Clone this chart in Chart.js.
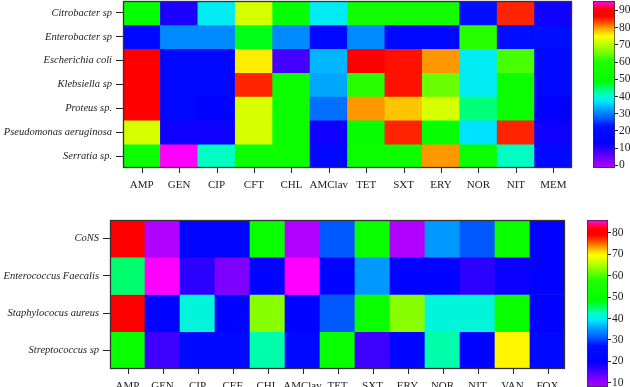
<!DOCTYPE html>
<html>
<head>
<meta charset="utf-8">
<script src="https://cdn.jsdelivr.net/npm/chart.js@4.4.0/dist/chart.umd.min.js"></script>
<style>
  html, body { margin: 0; padding: 0; background: #fff; }
  #wrap { position: relative; width: 630px; height: 387px; overflow: hidden; }
  #wrap canvas { position: absolute; }
</style>
</head>
<body>
<div id="wrap">
  <canvas id="heatTop" width="580" height="195" style="left:0;top:0"></canvas>
  <canvas id="barTop" width="45" height="175" style="left:585px;top:0"></canvas>
  <canvas id="heatBottom" width="580" height="187" style="left:0;top:200px"></canvas>
  <canvas id="barBottom" width="50" height="177" style="left:580px;top:210px"></canvas>
</div>
<script>
// ---- data: gram-negative panel ----
var gnSpecies = ['Citrobacter sp', 'Enterobacter sp', 'Escherichia coli', 'Klebsiella sp', 'Proteus sp.', 'Pseudomonas aeruginosa', 'Serratia sp.'];
var gnDrugs = ['AMP', 'GEN', 'CIP', 'CFT', 'CHL', 'AMClav', 'TET', 'SXT', 'ERY', 'NOR', 'NIT', 'MEM'];
var gnCitrobacter  = [51, 11, 38, 72, 50, 38, 56, 56, 56, 22, 85, 12];
var gnEnterobacter = [17, 31, 31, 48, 31, 17, 31, 17, 17, 61, 21, 21];
var gnEcoli        = [89, 17, 17, 76,  8, 34, 88, 86, 80, 38, 63, 17];
var gnKlebsiella   = [89, 17, 17, 85, 53, 33, 61, 86, 65, 38, 53, 17];
var gnProteus      = [89, 17, 14, 72, 53, 29, 80, 78, 72, 44, 53, 13];
var gnPseudomonas  = [72, 12, 12, 72, 53, 12, 51, 85, 51, 37, 85, 12];
var gnSerratia     = [53, 96, 41, 53, 53, 17, 53, 53, 80, 53, 41, 17];
var gnRange = [-1.5, 95.5];
var gnTicks = [0, 10, 20, 30, 40, 50, 60, 70, 80, 90];

// ---- data: gram-positive panel ----
var gpSpecies = ['CoNS', 'Enterococcus Faecalis', 'Staphylococus aureus', 'Streptococcus sp'];
var gpDrugs = ['AMP', 'GEN', 'CIP', 'CEF', 'CHL', 'AMClav', 'TET', 'SXT', 'ERY', 'NOR', 'NIT', 'VAN', 'FOX'];
var gpCoNS          = [80,  8, 22, 22, 51,  8, 31, 51,  8, 35, 31, 51, 20];
var gpEnterococcus  = [45, 86, 17, 12, 21, 86, 21, 35, 21, 21, 17, 19, 20];
var gpStaphylococus = [80, 21, 41, 21, 63, 21, 31, 51, 63, 41, 41, 51, 20];
var gpStreptococcus = [51, 16, 24, 24, 43, 24, 51, 16, 22, 43, 21, 70, 24];
var gpRange = [8, 86];
var gpTicks = [10, 20, 30, 40, 50, 60, 70, 80];

// rainbow palette (fraction of colour range -> colour)
var palette = [
  [0.00, '#b000ff'], [0.05, '#8000ff'], [0.10, '#4000ff'], [0.15, '#0000ff'],
  [0.25, '#0010ff'], [0.30, '#0060ff'], [0.34, '#0090ff'], [0.40, '#00e8ff'],
  [0.44, '#00ffc0'], [0.48, '#00ff60'], [0.52, '#00ff00'], [0.64, '#20ff00'],
  [0.70, '#80ff00'], [0.75, '#ccff00'], [0.79, '#ffff00'], [0.83, '#ffb000'],
  [0.87, '#ff5000'], [0.91, '#ff0000'], [0.95, '#ff0000'], [1.00, '#ff00ff']
];

var FONT = '"Liberation Serif", "DejaVu Serif", serif';
var INK = '#222';
var LINE = '#222';

function rgb(h) {
  return [parseInt(h.substr(1, 2), 16), parseInt(h.substr(3, 2), 16), parseInt(h.substr(5, 2), 16)];
}

function heatColor(v, range) {
  var t = (v - range[0]) / (range[1] - range[0]);
  t = Math.max(0, Math.min(1, t));
  for (var i = 1; i < palette.length; i++) {
    if (t <= palette[i][0]) {
      var a = palette[i - 1], b = palette[i];
      var f = (t - a[0]) / (b[0] - a[0] || 1);
      var ca = rgb(a[1]), cb = rgb(b[1]);
      return 'rgb(' + ca.map(function(c, k){ return Math.round(c + (cb[k] - c) * f); }).join(',') + ')';
    }
  }
  return palette[palette.length - 1][1];
}

// dark frame round the plot area + tick marks under the x categories
var framePlugin = {
  id: 'frame',
  afterDraw: function(chart) {
    var a = chart.chartArea, c = chart.ctx, xs = chart.scales.x;
    c.save();
    c.strokeStyle = '#333';
    c.lineWidth = 1.3;
    c.strokeRect(a.left + 0.5, a.top + 0.5, a.right - a.left - 1, a.bottom - a.top - 1);
    c.strokeStyle = LINE;
    c.lineWidth = 1;
    c.beginPath();
    xs.ticks.forEach(function(t, i) {
      var x = Math.round(xs.getPixelForTick(i)) + 0.5;
      c.moveTo(x, a.bottom);
      c.lineTo(x, a.bottom + 5);
    });
    c.stroke();
    c.restore();
  }
};

function heatmap(id, rows, cols, values, range, box) {
  var datasets = rows.map(function(name, r) {
    return {
      label: name,
      data: cols.map(function(){ return 1; }),   // one row high per cell
      backgroundColor: values[r].map(function(v){ return heatColor(v, range); }),
      borderWidth: 0,
      barPercentage: 1,
      categoryPercentage: 1
    };
  });
  new Chart(document.getElementById(id), {
    type: 'bar',
    data: { labels: cols, datasets: datasets },
    options: {
      responsive: false, animation: false, devicePixelRatio: 1,
      layout: { padding: { top: box.top, right: box.right, left: 0, bottom: 0 } },
      plugins: { legend: { display: false }, tooltip: { enabled: false } },
      scales: {
        x: {
          stacked: true,
          grid: { display: false },
          border: { display: false },
          ticks: { font: { family: FONT, size: 11 }, color: INK, padding: 3, maxRotation: 0, autoSkip: false },
          afterFit: function(s){ s.height = box.xh; s.paddingLeft = 0; s.paddingRight = 0; }
        },
        y: {
          stacked: true, reverse: true, min: 0, max: rows.length,
          grid: { display: true, drawOnChartArea: false, tickLength: 7, color: LINE, tickColor: LINE, lineWidth: 1 },
          border: { display: false },
          afterBuildTicks: function(s){ s.ticks = rows.map(function(_, i){ return { value: i + 0.5 }; }); },
          ticks: { callback: function(v, i){ return rows[i]; }, font: { family: FONT, size: 10.5, style: 'italic' }, color: INK, padding: 4 },
          afterFit: function(s){ s.width = box.yw; s.paddingTop = 0; s.paddingBottom = 0; }
        }
      }
    },
    plugins: [framePlugin]
  });
}

function colorbar(id, range, tickVals, box) {
  new Chart(document.getElementById(id), {
    type: 'bar',
    data: {
      labels: [''],
      datasets: [{
        data: [[range[0], range[1]]],
        backgroundColor: function(ctx) {
          var a = ctx.chart.chartArea;
          if (!a) return null;
          var g = ctx.chart.ctx.createLinearGradient(0, a.bottom, 0, a.top);
          palette.forEach(function(s){ g.addColorStop(s[0], s[1]); });
          return g;
        },
        borderColor: '#333', borderWidth: 1, borderSkipped: false,
        barPercentage: 1, categoryPercentage: 1
      }]
    },
    options: {
      responsive: false, animation: false, devicePixelRatio: 1,
      layout: { padding: { top: box.top, bottom: box.bottom, left: box.left, right: 0 } },
      plugins: { legend: { display: false }, tooltip: { enabled: false } },
      scales: {
        x: { display: false },
        y: {
          position: 'right', min: range[0], max: range[1],
          afterBuildTicks: function(s){ s.ticks = tickVals.map(function(v){ return { value: v }; }); },
          grid: { drawOnChartArea: false, tickLength: 3, tickColor: LINE },
          border: { display: false },
          ticks: { font: { family: FONT, size: 11.5 }, color: INK, padding: 1 },
          afterFit: function(s){ s.width = box.yw; s.paddingTop = 0; s.paddingBottom = 0; }
        }
      }
    }
  });
}

heatmap('heatTop', gnSpecies, gnDrugs,
  [gnCitrobacter, gnEnterobacter, gnEcoli, gnKlebsiella, gnProteus, gnPseudomonas, gnSerratia],
  gnRange, { top: 1, right: 8, yw: 123, xh: 27 });
colorbar('barTop', gnRange, gnTicks, { top: 1, bottom: 7, left: 8, yw: 15 });

heatmap('heatBottom', gpSpecies, gpDrugs,
  [gpCoNS, gpEnterococcus, gpStaphylococus, gpStreptococcus],
  gpRange, { top: 20, right: 15, yw: 110, xh: 18 });
colorbar('barBottom', gpRange, gpTicks, { top: 10, bottom: 0, left: 7, yw: 22 });
</script>
</body>
</html>
